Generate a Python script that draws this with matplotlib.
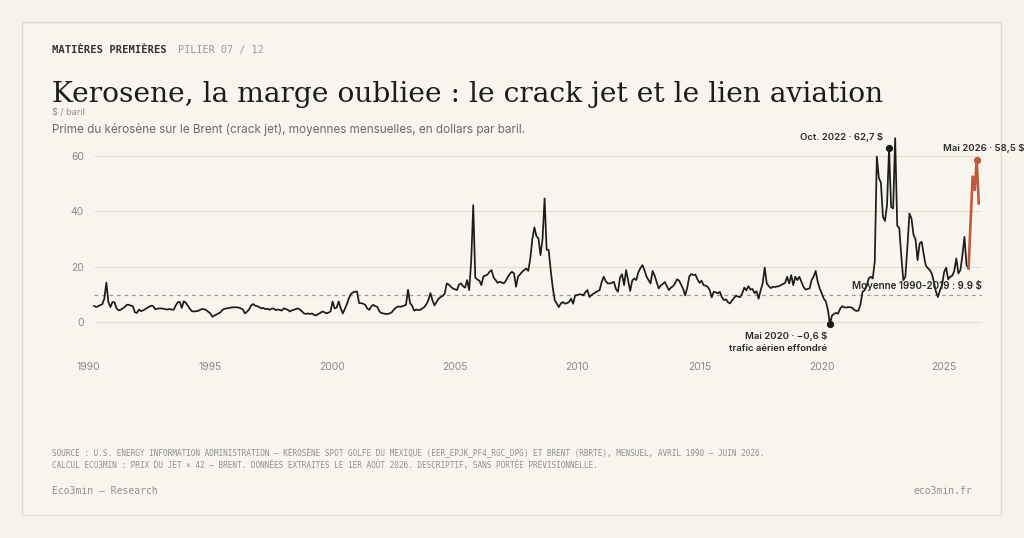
import numpy as np
import pandas as pd
import matplotlib
matplotlib.use("Agg")
import matplotlib.pyplot as plt
from matplotlib.patches import Rectangle

# Crack jet (kerosene - Brent), $/bbl, monthly, Apr 1990 - Jun 2026
crack_jet = [
    5.9, 5.5, 5.8, 6.2, 6.5, 8.5, 14.3, 7.3, 5.5,                      # 1990 (Apr-Dec)
    7.3, 7.2, 5.0, 4.3, 4.5, 5.0, 5.5, 6.3, 6.3, 6.0, 5.8, 3.6,        # 1991
    3.4, 4.6, 4.0, 4.3, 4.7, 5.2, 5.6, 6.0, 5.8, 4.7, 4.9, 5.0,        # 1992
    5.0, 4.9, 4.7, 4.6, 4.8, 4.6, 4.5, 6.0, 7.2, 7.4, 5.2, 7.6,        # 1993
    7.0, 6.0, 4.8, 4.0, 3.9, 4.0, 4.1, 4.5, 4.8, 4.7, 4.4, 3.8,        # 1994
    3.2, 2.0, 2.4, 2.8, 3.2, 3.6, 4.5, 4.9, 5.0, 5.1, 5.3, 5.4,        # 1995
    5.4, 5.4, 5.3, 5.0, 4.6, 3.2, 3.8, 4.6, 6.0, 6.6, 6.0, 5.8,        # 1996
    5.5, 5.0, 5.2, 4.7, 4.9, 4.5, 4.9, 5.0, 4.4, 4.6, 4.5, 4.2,        # 1997
    5.0, 4.8, 4.5, 3.9, 4.3, 4.5, 4.8, 5.0, 4.6, 3.9, 3.2, 3.0,        # 1998
    3.2, 3.0, 3.2, 2.6, 2.5, 3.0, 3.4, 3.9, 3.6, 3.2, 3.5, 3.9,        # 1999
    7.5, 5.0, 5.3, 7.5, 5.0, 3.2, 4.8, 6.5, 8.7, 10.2, 10.8, 11.0,     # 2000
    11.1, 6.9, 6.9, 6.7, 6.3, 5.0, 4.5, 5.8, 6.3, 5.8, 5.5, 3.9,       # 2001
    3.3, 3.2, 3.0, 3.0, 3.2, 3.6, 4.5, 5.2, 5.7, 5.6, 5.7, 6.0,        # 2002
    6.3, 11.7, 6.9, 6.0, 4.2, 4.6, 4.4, 4.5, 5.0, 5.5, 6.5, 8.0,       # 2003
    10.5, 7.9, 6.1, 7.3, 8.5, 9.1, 9.5, 10.3, 14.0, 13.6, 12.8, 12.2,  # 2004
    11.9, 11.6, 13.6, 14.0, 13.0, 12.5, 15.2, 11.6, 22.0, 42.2, 16.1, 15.4,  # 2005
    15.0, 13.4, 16.6, 16.8, 17.2, 18.2, 18.8, 16.1, 15.2, 14.2, 14.6, 14.3,  # 2006
    14.0, 15.0, 16.4, 17.5, 18.2, 17.6, 12.8, 16.5, 17.3, 18.2, 18.8, 19.4,  # 2007
    18.5, 23.0, 30.0, 34.2, 31.0, 30.2, 24.2, 30.0, 44.6, 26.2, 26.0, 18.8,  # 2008
    12.5, 7.9, 6.7, 5.5, 6.8, 7.3, 6.7, 6.9, 7.3, 8.5, 6.7, 9.7,       # 2009
    9.8, 10.1, 10.0, 9.7, 10.8, 11.6, 9.1, 9.8, 10.3, 10.8, 11.2, 11.6,      # 2010
    14.5, 16.4, 14.8, 14.0, 14.0, 14.2, 14.6, 12.0, 11.0, 16.0, 17.3, 13.4,  # 2011
    18.8, 15.0, 11.3, 15.0, 15.8, 15.2, 18.0, 19.5, 20.6, 18.8, 16.5, 15.2,  # 2012
    14.0, 18.5, 16.8, 14.5, 12.2, 13.3, 13.8, 14.5, 13.0, 11.6, 12.5, 13.0,  # 2013
    14.0, 15.5, 15.0, 13.5, 12.0, 9.7, 12.5, 16.5, 17.4, 17.0, 17.2, 15.5,   # 2014
    14.2, 15.0, 13.4, 13.2, 12.8, 11.6, 9.0, 11.0, 10.8, 10.4, 11.0, 9.0,    # 2015
    8.0, 8.3, 7.2, 6.8, 7.9, 8.8, 9.6, 9.2, 9.1, 10.5, 12.5, 11.5,     # 2016
    13.0, 11.8, 12.0, 10.5, 11.2, 8.5, 11.5, 14.0, 19.7, 14.0, 13.0, 12.3,   # 2017
    12.8, 12.7, 12.9, 13.0, 13.4, 13.8, 14.2, 16.4, 14.0, 17.0, 13.4, 16.4,  # 2018
    15.2, 16.4, 14.6, 12.8, 11.8, 12.0, 12.2, 15.2, 16.4, 18.5, 14.6, 12.2,  # 2019
    10.3, 8.5, 7.5, 4.5, -0.6, 2.4, 3.0, 3.4, 3.1, 4.9, 5.8, 5.4,      # 2020
    5.3, 5.5, 5.4, 5.2, 4.4, 4.1, 4.2, 6.5, 11.0, 11.5, 13.0, 15.8,    # 2021
    16.4, 15.8, 22.0, 59.7, 52.0, 50.3, 38.0, 36.5, 42.2, 62.7, 41.5, 41.0,  # 2022
    66.3, 34.8, 34.0, 24.0, 15.2, 16.4, 27.2, 39.2, 37.4, 31.5, 29.8, 22.4,  # 2023
    28.4, 29.0, 24.5, 20.5, 19.5, 18.8, 17.5, 14.5, 11.0, 9.1, 11.6, 13.4,   # 2024
    18.0, 19.7, 15.5, 16.4, 16.8, 18.5, 23.0, 17.6, 18.8, 24.2, 30.8, 20.6,  # 2025
    19.4, 36.0, 52.5, 47.7, 58.5, 42.8,                                 # 2026 (Jan-Jun)
]
months = pd.date_range("1990-04-01", "2026-06-01", freq="MS")
highlight_from = "2026-01-01"
moyenne = 9.9

year_ticks = [1990, 1995, 2000, 2005, 2010, 2015, 2020, 2025]
y_ticks = [0, 20, 40, 60]

BG = "#f6f3ec"
CARD = "#f8f5ef"
INK = "#1c1c1c"
GRID = "#e6e0d2"
GREY = "#8a8a8a"
RUST = "#bf5a3c"

t = months.year + (months.month - 1) / 12
s = pd.Series(crack_jet, index=months)
hl = months >= pd.Timestamp(highlight_from)
start_hl = months == pd.Timestamp(highlight_from)

fig = plt.figure(figsize=(10.24, 5.38), dpi=100, facecolor=BG)
fig.patches.append(Rectangle((22 / 1024, 1 - 515 / 538), 979 / 1024, 493 / 538,
                             transform=fig.transFigure, facecolor=CARD,
                             edgecolor="#e0dbcd", lw=1, zorder=-10))

# header
fig.text(52 / 1024, 1 - 50 / 538, "MATIÈRES PREMIÈRES", family="DejaVu Sans Mono",
         weight="bold", size=7.6, color="#333333", va="center")
fig.text(178 / 1024, 1 - 50 / 538, "PILIER 07 / 12", family="DejaVu Sans Mono",
         size=7.4, color="#9a9a9a", va="center")
fig.text(52 / 1024, 1 - 102 / 538, "Kerosene, la marge oubliee : le crack jet et le lien aviation",
         family="DejaVu Serif", size=20.25, color=INK, va="baseline")
fig.text(52 / 1024, 1 - 113 / 538, "$ / baril", family="Inter", size=6.5,
         color="#8a8a8a", va="center")
fig.text(52 / 1024, 1 - 130 / 538,
         "Prime du kérosène sur le Brent (crack jet), moyennes mensuelles, en dollars par baril.",
         family="Inter", size=8.45, color="#6a6a6a", va="center")

ax = fig.add_axes([88 / 1024, 1 - 345 / 538, (982 - 88) / 1024, (345 - 135) / 538])
ax.set_facecolor("none")
ax.set_xlim(1990, 2026.55)
ax.set_ylim(-8.17, 67.45)
for sp in ax.spines.values():
    sp.set_visible(False)

ax.hlines(y_ticks, t[0], 2026.55, color=GRID, lw=0.9, zorder=0)
ax.hlines(moyenne, t[0], 2026.55, color="#9a9a9a", lw=0.9, ls=(0, (3, 3)), zorder=1)

ax.plot(t[~hl | start_hl], s[~hl | start_hl], color=INK, lw=1.25, zorder=3)
ax.plot(t[hl], s[hl], color=RUST, lw=1.9, zorder=4)

ax.set_xticks(year_ticks)
ax.set_xticklabels([str(y) for y in year_ticks])
ax.set_yticks(y_ticks)
ax.tick_params(length=0, labelsize=7.5, labelcolor=GREY)
ax.tick_params(axis="x", pad=12)
ax.tick_params(axis="y", pad=3)
for lab in ax.get_xticklabels() + ax.get_yticklabels():
    lab.set_family("Inter")

# annotations
ann = dict(family="Inter", size=6.9, color="#2a2a2a", weight="semibold")
m_oct = pd.Timestamp("2022-10-01")
m_mai20 = pd.Timestamp("2020-05-01")
m_mai26 = pd.Timestamp("2026-05-01")
for m, col in [(m_oct, INK), (m_mai20, INK), (m_mai26, RUST)]:
    i = months.get_loc(m)
    ax.plot(t[i], s.iloc[i], "o", ms=4.2, color=col, zorder=5)

i = months.get_loc(m_oct)
ax.annotate("Oct. 2022 · 62,7 $", (t[i], s.iloc[i]), xytext=(-4, 8),
            textcoords="offset points", ha="right", va="center", **ann)
i = months.get_loc(m_mai26)
ax.annotate("Mai 2026 · 58,5 $", (t[i], s.iloc[i]), xytext=(-24, 8),
            textcoords="offset points", ha="left", va="center", annotation_clip=False, **ann)
i = months.get_loc(m_mai20)
ax.annotate("Mai 2020 · −0,6 $\ntrafic aérien effondré", (t[i], s.iloc[i]),
            xytext=(-2, -6), textcoords="offset points", ha="right", va="top",
            linespacing=1.4, **ann)
ax.text(2026.55, moyenne + 1.2, "Moyenne 1990-2019 : 9.9 $", ha="right", va="bottom",
        **{**ann, "size": 7.1})

# footer
foot = dict(family="DejaVu Sans Mono", size=5.6, color="#8f8f8f", va="center")
fig.text(52 / 1024, 1 - 453 / 538,
         "SOURCE : U.S. ENERGY INFORMATION ADMINISTRATION — KÉROSÈNE SPOT GOLFE DU MEXIQUE "
         "(EER_EPJK_PF4_RGC_DPG) ET BRENT (RBRTE), MENSUEL, AVRIL 1990 – JUIN 2026.", **foot)
fig.text(52 / 1024, 1 - 465 / 538,
         "CALCUL ECO3MIN : PRIX DU JET × 42 − BRENT. DONNÉES EXTRAITES LE 1ER AOÛT 2026. "
         "DESCRIPTIF, SANS PORTÉE PRÉVISIONNELLE.", **foot)
fig.text(52 / 1024, 1 - 491 / 538, "Eco3min — Research", family="DejaVu Sans Mono",
         size=7, color="#8f8f8f", va="center")
fig.text(972 / 1024, 1 - 491 / 538, "eco3min.fr", family="DejaVu Sans Mono",
         size=7, color="#8f8f8f", va="center", ha="right")

fig.savefig("out.png", dpi=100, facecolor=BG)
